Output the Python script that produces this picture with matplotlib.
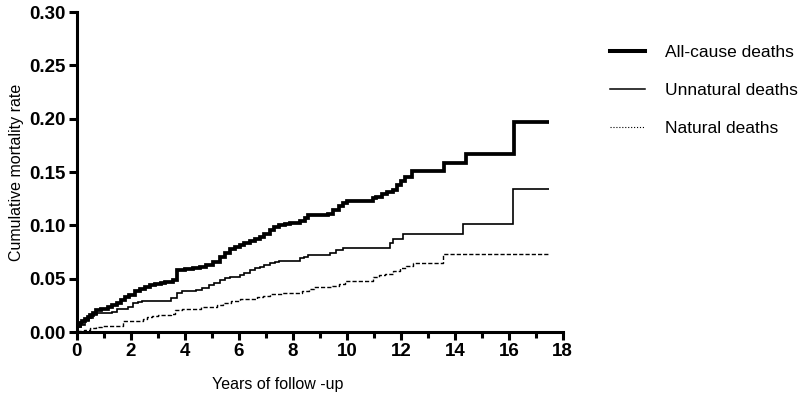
import numpy as np
import matplotlib
matplotlib.use("Agg")
import matplotlib.pyplot as plt
from matplotlib.lines import Line2D
from matplotlib.ticker import MultipleLocator, FormatStrFormatter

plt.rcParams['font.family'] = ['Liberation Sans', 'DejaVu Sans']

# Daten (Stufen jeweils ab x)
all_x = [0, 0.1, 0.2, 0.3, 0.4, 0.5, 0.6, 0.7, 0.9, 1.15, 1.3, 1.5, 1.65, 1.78, 1.95,
         2.15, 2.35, 2.52, 2.7, 2.9, 3.1, 3.26, 3.56, 3.72, 4.0, 4.3, 4.55, 4.8, 5.05,
         5.3, 5.5, 5.67, 5.85, 6.04, 6.2, 6.4, 6.6, 6.78, 6.95, 7.15, 7.3, 7.5, 7.7,
         7.9, 8.26, 8.45, 8.55, 9.3, 9.5, 9.7, 9.85, 10.0, 10.96, 11.1, 11.3, 11.5,
         11.7, 11.85, 12.0, 12.15, 12.4, 13.6, 14.4, 16.2, 17.5]
all_y = [0.006, 0.008, 0.010, 0.012, 0.014, 0.016, 0.018, 0.021, 0.022, 0.023, 0.025,
         0.027, 0.030, 0.033, 0.035, 0.038, 0.040, 0.042, 0.044, 0.045, 0.046, 0.047,
         0.049, 0.058, 0.059, 0.060, 0.061, 0.063, 0.066, 0.070, 0.074, 0.078, 0.080,
         0.082, 0.083, 0.085, 0.087, 0.089, 0.092, 0.096, 0.098, 0.100, 0.101, 0.102,
         0.104, 0.107, 0.110, 0.111, 0.114, 0.118, 0.121, 0.123, 0.126, 0.127, 0.129,
         0.131, 0.133, 0.138, 0.142, 0.145, 0.151, 0.158, 0.167, 0.197, 0.197]

unnat_x = [0, 0.15, 0.3, 0.45, 0.6, 0.75, 1.3, 1.5, 1.9, 2.07, 2.25, 2.4, 3.5, 3.7,
           3.9, 4.4, 4.65, 4.9, 5.1, 5.3, 5.5, 5.67, 6.04, 6.2, 6.4, 6.6, 6.78, 6.95,
           7.15, 7.35, 7.5, 8.26, 8.4, 8.55, 9.37, 9.6, 9.85, 11.6, 11.7, 12.07, 14.3,
           16.15, 17.5]
unnat_y = [0.005, 0.007, 0.010, 0.013, 0.016, 0.018, 0.019, 0.022, 0.023, 0.027,
           0.028, 0.029, 0.032, 0.037, 0.038, 0.039, 0.041, 0.044, 0.046, 0.049,
           0.051, 0.052, 0.053, 0.055, 0.058, 0.060, 0.061, 0.063, 0.065, 0.066,
           0.067, 0.069, 0.070, 0.072, 0.074, 0.077, 0.079, 0.083, 0.087, 0.092,
           0.101, 0.134, 0.134]

nat_x = [0, 0.25, 0.48, 0.7, 0.93, 1.7, 2.45, 2.6, 2.8, 3.0, 3.5, 3.63, 3.9, 4.6,
         5.2, 5.4, 5.7, 6.04, 6.67, 6.9, 7.15, 7.6, 8.33, 8.6, 8.8, 9.44, 9.7, 9.93,
         10.96, 11.2, 11.4, 11.7, 11.96, 12.2, 12.44, 13.55, 17.5]
nat_y = [0.001, 0.002, 0.004, 0.005, 0.006, 0.010, 0.012, 0.014, 0.015, 0.016, 0.017,
         0.021, 0.022, 0.023, 0.025, 0.027, 0.029, 0.031, 0.033, 0.034, 0.036, 0.037,
         0.038, 0.040, 0.042, 0.043, 0.045, 0.048, 0.052, 0.053, 0.054, 0.057, 0.060,
         0.062, 0.065, 0.073, 0.073]

labels = ["All-cause deaths", "Unnatural deaths", "Natural deaths"]

fig = plt.figure(figsize=(8, 4.01), dpi=100)
ax = fig.add_axes([0.096, 0.172, 0.6075, 0.798])

ax.step(all_x, all_y, where='post', color='black', lw=2.7,
        solid_joinstyle='miter', solid_capstyle='butt')
ax.step(unnat_x, unnat_y, where='post', color='black', lw=1.2,
        solid_joinstyle='miter', solid_capstyle='butt')
ax.step(nat_x, nat_y, where='post', color='black', lw=1.0, linestyle=(0, (3, 1.5)))

ax.set_xlim(0, 18)
ax.set_ylim(0, 0.30)
ax.xaxis.set_major_locator(MultipleLocator(2))
ax.xaxis.set_minor_locator(MultipleLocator(1))
ax.yaxis.set_major_locator(MultipleLocator(0.05))
ax.yaxis.set_major_formatter(FormatStrFormatter('%.2f'))

for s in ['top', 'right']:
    ax.spines[s].set_visible(False)
for s in ['left', 'bottom']:
    ax.spines[s].set_linewidth(2.2)
ax.tick_params(which='major', direction='out', length=6, width=2.2, labelsize=13.5, pad=2)
ax.tick_params(which='minor', direction='out', length=4, width=2.2)
for lab in ax.get_xticklabels() + ax.get_yticklabels():
    lab.set_fontweight('bold')

ax.set_xlabel("Years of follow -up", fontsize=11.5)
ax.xaxis.set_label_coords(0.414, -0.14)
ax.set_ylabel("Cumulative mortality rate", fontsize=11.5, labelpad=4)

handles = [Line2D([], [], color='black', lw=2.9),
           Line2D([], [], color='black', lw=1.1),
           Line2D([], [], color='black', lw=0.8, linestyle=':')]
fig.legend(handles, labels, loc='upper left', bbox_to_anchor=(0.743, 0.926),
           frameon=False, fontsize=12.5, handlelength=2.0, handletextpad=1.15,
           labelspacing=1.3)

plt.savefig("out.png", dpi=100)
plt.close()
